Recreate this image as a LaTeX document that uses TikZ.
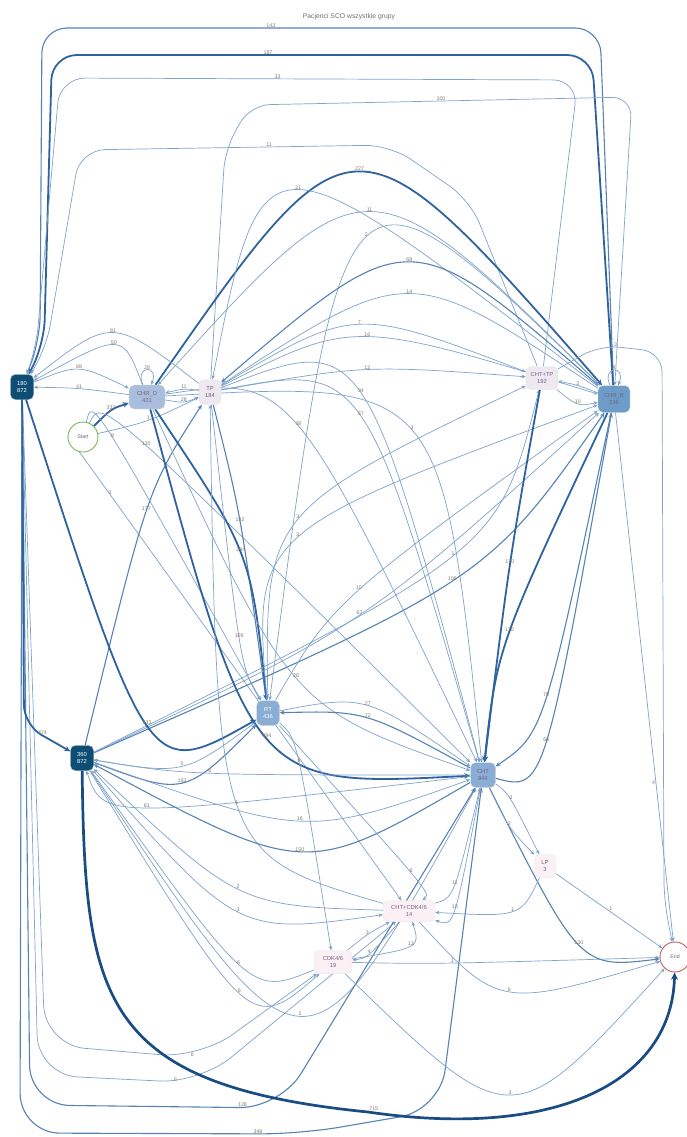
\documentclass[tikz,border=0pt]{standalone}
\usepackage{fontspec}
\setmainfont{Liberation Sans}
\usetikzlibrary{calc,arrows.meta}
\pgfdeclarelayer{bg}
\pgfsetlayers{bg,main}
\definecolor{ec1}{HTML}{7FA3CA}
\definecolor{ec2}{HTML}{5683B6}
\definecolor{ec3}{HTML}{2F63A0}
\definecolor{ec4}{HTML}{1A4C84}
\definecolor{labc}{HTML}{877A63}
\definecolor{darkn}{HTML}{0E4E74}
\definecolor{chrdc}{HTML}{A9BEDC}
\definecolor{chrrc}{HTML}{6E9CC9}
\definecolor{midc}{HTML}{89ADD3}
\definecolor{pale}{HTML}{EEE8F1}
\definecolor{pinkc}{HTML}{FBF1F4}
\definecolor{ntext}{HTML}{7A5E86}
\definecolor{startc}{HTML}{7DB65A}
\definecolor{endc}{HTML}{C0605C}
\definecolor{titlec}{HTML}{707070}
\tikzset{
 e/.style={draw=ec1, line width=0.7pt, -{Stealth[length=3.2pt 1.5,width=2.6pt 1.6]}},
 wm/.style={draw=ec2, line width=1.1pt},
 wt/.style={draw=ec3, line width=1.8pt},
 wx/.style={draw=ec4, line width=2.7pt},
 lab/.style={font=\fontsize{5.3}{6}\selectfont, text=labc, inner sep=0.5pt},
 box/.style={rectangle, rounded corners=5pt, draw=white!80!gray, align=center,
   font=\fontsize{5.8}{6.8}\selectfont, text=ntext, inner sep=1pt},
 darkbox/.style={box, fill=darkn, draw=darkn!60, text=white, minimum width=23pt, minimum height=25pt},
 circ/.style={circle, minimum size=30pt, fill=white, line width=0.9pt, font=\fontsize{5.3}{6}\selectfont, text=ntext, inner sep=0pt},
}
\newcommand\E[5][]{\draw[e,#1] (#2) .. controls ($1.3333*(#4)-0.1667*(#2)-0.1667*(#3)$) .. (#3) node[lab,pos=.5,above=-0.5pt]{#5};}
\begin{document}
\begin{tikzpicture}[x=1pt,y=-1pt]
\useasboundingbox (0,0) rectangle (686,1137);
\node[font=\fontsize{6.8}{8}\selectfont, text=titlec] (title) at (349,17) {Pacjenci SCO wszystkie grupy};
% nodes
\node[darkbox] (n180) at (22,387) {180\\872};
\node[darkbox] (n360) at (82,758) {360\\872};
\node[circ,draw=startc] (start) at (83,437) {Start};
\node[box,fill=chrdc,minimum width=36pt,minimum height=24pt,text=ntext] (chrd) at (147,397) {CHR\_D\\431};
\node[box,fill=pale,minimum width=22pt,minimum height=25pt] (tp) at (210,392) {TP\\184};
\node[box,fill=pale,minimum width=32pt,minimum height=23pt] (chttp) at (542,378) {CHT+TP\\192};
\node[box,fill=chrrc,minimum width=32pt,minimum height=27pt,text=ntext] (chrr) at (614,399) {CHR\_R\\236};
\node[box,fill=midc,minimum width=23pt,minimum height=25pt,text=white] (rt) at (268,713) {RT\\436};
\node[box,fill=midc,minimum width=25pt,minimum height=25pt,text=ntext] (cht) at (483,775) {CHT\\944};
\node[box,fill=pinkc,minimum width=21pt,minimum height=23pt] (lp) at (545,866) {LP\\3};
\node[box,fill=pinkc,minimum width=52pt,minimum height=21pt] (chtcdk) at (409,911) {CHT+CDK4/6\\14};
\node[box,fill=pinkc,minimum width=38pt,minimum height=23pt] (cdk) at (333,962) {CDK4/6\\19};
\node[circ,draw=endc] (end) at (675,957) {End};
\begin{pgfonlayer}{bg}
\fill[white] (0,0) rectangle (686,1137);
% big top loops
\draw[e,wm,rounded corners=25pt] (chrr) -- (600,28) -- node[lab,above=-0.5pt,pos=.59]{143} (42,28) -- (40,340) -- (n180);
\draw[e,wt,rounded corners=25pt] (chrr) -- (592,55) -- node[lab,above=-0.5pt,pos=.6]{187} (52,55) -- (44,345) -- (n180);
\draw[e,rounded corners=25pt] (chttp) -- (578,80) -- node[lab,above=-0.5pt,pos=.58]{33} (60,78) -- (36,350) -- (n180);
\draw[e,rounded corners=20pt] (tp) -- (225,150) -- (250,105) -- node[lab,above=-0.5pt,pos=.5]{100} (632,97) -- (chrr);
\draw[e,rounded corners=25pt] (chttp) -- (470,200) -- (390,145) -- node[lab,above=-0.5pt,pos=.39]{11} (80,150) -- (46,350) -- (n180);
% upper curves
\E[wt]{chrd}{chrr}{360,175}{227}
\E{chrr}{tp}{300,193}{21}
\E{chrr}{chrd}{370,215}{11}
\E{chrr}{rt}{368,240}{2}
\E[wm]{chrr}{tp}{410,265}{68}
\E{chrr}{tp}{410,296}{14}
\E{tp}{chttp}{360,326}{7}
\E{tp}{chrr}{368,338}{16}
\E{tp}{chttp}{368,370}{12}
\E{tp}{cht}{360,395}{34}
\E{tp}{cht}{360,418}{37}
\E{chrd}{cht}{297,428}{38}
\E{chrd}{cht}{410,432}{3}
\draw[e,rounded corners=20pt] (chttp) -- (600,345) -- node[lab,above=-0.5pt,pos=.25]{3} (662,352) -- (664,900) -- (end);
\draw[e] ([xshift=-4pt]chrr.north) .. controls +(-9,-20) and +(9,-20) .. ([xshift=4pt]chrr.north) node[lab,pos=.5,above=-0.5pt]{4};
\E{chrr}{chttp}{578,386}{3}
\E{chttp}{chrr}{578,402}{10}
\draw[e] (chrr) -- node[lab,left,pos=.7]{4} (end);
% left region
\E{tp}{n180}{113,335}{81}
\E{chrd}{n180}{113,347}{50}
\E{n180}{chrd}{80,371}{88}
\E{chrd}{n180}{80,389}{41}
\draw[e] ([xshift=-4pt]chrd.north) .. controls +(-9,-20) and +(9,-20) .. ([xshift=4pt]chrd.north) node[lab,pos=.5,above=-0.5pt]{28};
\E{tp}{chrd}{183,390}{11}
\E{chrd}{tp}{183,401}{28}
\E[wt]{start}{chrd}{112,411}{333}
\E{start}{tp}{148,420}{1}
\E{start}{rt}{113,441}{8}
\E{start}{cht}{147,449}{130}
\E{start}{chtcdk}{113,496}{3}
\E[wm]{n360}{tp}{147,511}{177}
\E[wm]{tp}{rt}{240,522}{132}
\E[wt]{chrd}{rt}{240,553}{294}
\E{rt}{chttp}{300,520}{3}
\E{rt}{chrr}{300,538}{3}
\E{n360}{chttp}{452,555}{1}
\E[wm]{n360}{chrr}{452,580}{106}
\E{rt}{chrr}{360,590}{10}
\E{n360}{chrr}{360,614}{67}
\E[wt]{chttp}{cht}{510,565}{170}
\E[wt]{chrr}{cht}{510,632}{170}
\E{chrd}{cht}{297,677}{28}
\E{rt}{cht}{368,707}{27}
\E[wm]{cht}{rt}{368,719}{72}
\E{tp}{rt}{240,638}{109}
\E[wt]{n180}{rt}{148,723}{333}
\E[wt]{chrd}{cht}{268,737}{494}
\E{rt}{n360}{182,765}{5}
\E[wm]{n360}{rt}{182,781}{163}
\E{cht}{n360}{210,773}{6}
\E{cht}{n360}{148,806}{81}
\E{chtcdk}{tp}{240,804}{1}
\E{n360}{cht}{300,820}{16}
\E[wm]{cht}{n360}{300,850}{150}
\E{chtcdk}{n360}{240,888}{2}
\E{n360}{chtcdk}{240,910}{3}
\E{cdk}{n360}{240,962}{6}
\E{n360}{cdk}{240,990}{6}
\E{n360}{cht}{300,1013}{2}
\draw[e,rounded corners=40pt] (n180) -- (45,1045) -- node[lab,above=-0.5pt,pos=.95]{6} (200,1058) -- (cdk);
\draw[e,rounded corners=40pt] (n180) -- (38,1075) -- node[lab,above=-0.5pt,pos=.85]{6} (200,1083) -- (chtcdk);
\draw[e,wm,rounded corners=40pt] (n180) -- (30,1105) -- node[lab,above=-0.5pt,pos=.85]{128} (280,1108) -- (cht);
\draw[e,wm,rounded corners=40pt] (n180) -- (20,1133) -- node[lab,above=-0.5pt,pos=.85]{348} (300,1134) -- (440,1110) -- (cht);
\draw[e,wx] (n360) .. controls (85,1000) and (100,1085) .. (368,1112) node[lab,above right=-0.5pt]{715} .. controls (560,1140) and (672,1080) .. (end);
\E{cdk}{end}{510,1092}{3}
\E{cdk}{end}{452,963}{1}
\E{chtcdk}{end}{510,990}{6}
\E[wm]{cht}{end}{580,943}{130}
\E{lp}{chtcdk}{510,910}{1}
\draw[e] (lp) -- node[lab,above right=-0.5pt,pos=.5]{1} (end);
\E[wm]{chrr}{cht}{545,697}{79}
\E[wm]{cht}{chrr}{545,740}{66}
\E{cht}{lp}{510,800}{3}
\E{cht}{lp}{510,826}{2}
\E{rt}{chtcdk}{408,873}{6}
\E{chtcdk}{cht}{452,884}{11}
\E{cht}{chtcdk}{452,906}{10}
\E{cdk}{chtcdk}{408,945}{13}
\E{chtcdk}{cdk}{368,953}{4}
\E{cdk}{chtcdk}{368,935}{3}
\E{rt}{cdk}{298,763}{6}
\draw[e,wt,rounded corners=20pt] (n180) -- (24,725) -- node[lab,above=-0.5pt,pos=.4]{474} (n360);
\end{pgfonlayer}
\end{tikzpicture}
\end{document}
